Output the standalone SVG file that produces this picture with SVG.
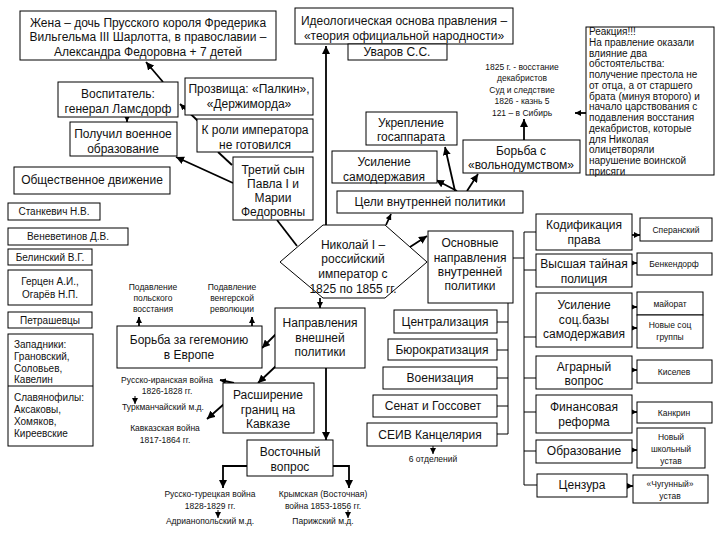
<svg xmlns="http://www.w3.org/2000/svg" width="720" height="540" viewBox="0 0 720 540">
<style>
.b{fill:#fff;stroke:#000;stroke-width:1}
.t{font-family:"Liberation Sans",Arial,sans-serif;font-size:12px;fill:#111;text-anchor:middle}
.m{font-family:"Liberation Sans",Arial,sans-serif;font-size:10px;fill:#111;text-anchor:middle}
.s{font-family:"Liberation Sans",Arial,sans-serif;font-size:8.5px;fill:#111;text-anchor:middle}
.l{text-anchor:start}
.c{fill:none;stroke:#000;stroke-width:1.8}
.c1{fill:none;stroke:#000;stroke-width:1}
</style>
<defs>
<marker id="a" markerUnits="userSpaceOnUse" markerWidth="9" markerHeight="8" refX="8" refY="4" orient="auto"><path d="M0,0 L8,4 L0,8 z" fill="#000"/></marker>
<marker id="as" markerUnits="userSpaceOnUse" markerWidth="7" markerHeight="6" refX="6" refY="3" orient="auto"><path d="M0,0 L6,3 L0,6 z" fill="#000"/></marker>
</defs>
<rect width="720" height="540" fill="#fff"/>

<g id="connectors">
<path class="c" d="M326,225 L326,46" marker-end="url(#a)"/>
<path class="c" d="M163,82 L146,62" marker-end="url(#a)"/>
<path class="c" d="M127,117 L127,122" marker-end="url(#as)"/>
<path class="c" d="M198,121 L180,104" marker-end="url(#as)"/>
<path class="c" d="M218,152 L232,165"/>
<path class="c" d="M233,183 L176,157" marker-end="url(#a)"/>
<path class="c" d="M277,220 L297,246"/>
<path class="c" d="M386,225 L391,214" marker-end="url(#as)"/>
<path class="c" d="M457,191 L436,180" marker-end="url(#a)"/>
<path class="c" d="M455,191 L445,147" marker-end="url(#a)"/>
<path class="c" d="M467,191 L478,174" marker-end="url(#a)"/>
<path class="c" d="M524,140 L524,119" marker-end="url(#a)"/>
<path class="c" d="M586,113 L575,113" marker-end="url(#as)"/>
<path class="c" d="M410,247 L427,236" marker-end="url(#a)"/>
<path class="c" d="M320,298 L320,308" marker-end="url(#as)"/>
<path class="c1" d="M508,303 L508,434 M497,322 L508,322 M497,350 L508,350 M497,378 L508,378 M497,406 L508,406 M497,434 L508,434"/>
<path class="c1" d="M513,258 L524,258 M524,232 L524,485 M524,232 L536,232 M524,270 L536,270 M524,337 L536,337 M524,378 L536,378 M524,412 L536,412 M524,451 L536,451 M524,485 L537,485"/>
<path class="c1" d="M487,400 L487,413" marker-end="url(#as)"/>
<path class="c1" d="M488,442 L488,427" marker-end="url(#as)"/>
<path class="c1" d="M433,446 L433,454" marker-end="url(#as)"/>
<path class="c" d="M632,235 L640,235" marker-end="url(#as)"/>
<path class="c" d="M632,263 L637,263" marker-end="url(#as)"/>
<path class="c" d="M632,307 L637,307" marker-end="url(#as)"/>
<path class="c" d="M632,328 L637,328" marker-end="url(#as)"/>
<path class="c" d="M632,370 L637,370" marker-end="url(#as)"/>
<path class="c" d="M632,412 L637,412" marker-end="url(#as)"/>
<path class="c" d="M632,450 L637,450" marker-end="url(#as)"/>
<path class="c" d="M627,486 L633,486" marker-end="url(#as)"/>
<path class="c" d="M139,326 L139,317" marker-end="url(#as)"/>
<path class="c" d="M252,326 L252,317" marker-end="url(#as)"/>
<path class="c" d="M277,333 L262,348" marker-end="url(#a)"/>
<path class="c" d="M276,366 L258,383" marker-end="url(#a)"/>
<path class="c" d="M234,383 L220,380" marker-end="url(#as)"/>
<path class="c1" d="M135,396 L135,404" marker-end="url(#as)"/>
<path class="c" d="M224,404 L207,419" marker-end="url(#a)"/>
<path class="c" d="M326,368 L326,440" marker-end="url(#a)"/>
<path class="c" d="M247,466 L223,466 L223,488" marker-end="url(#a)"/>
<path class="c" d="M333,466 L349,466 L349,488" marker-end="url(#a)"/>
<path class="c1" d="M218,510 L218,518" marker-end="url(#as)"/>
<path class="c1" d="M348,510 L348,518" marker-end="url(#as)"/>
</g>

<g id="zhena"><rect class="b" x="20" y="11" width="256" height="49"/>
<text class="t" x="148" y="27">Жена – дочь Прусского короля Фредерика</text>
<text class="t" x="148" y="41">Вильгельма III Шарлотта, в православии –</text>
<text class="t" x="148" y="56">Александра Федоровна + 7 детей</text></g>

<g id="ideo"><rect class="b" x="295" y="8" width="218" height="36"/>
<text class="t" x="404" y="25">Идеологическая основа правления –</text>
<text class="t" x="404" y="40">«теория официальной народности»</text></g>
<g id="uvarov"><rect class="b" x="348" y="44" width="99" height="16"/>
<text class="t" x="397" y="56">Уваров С.С.</text></g>

<g id="dekabr">
<text class="s" x="522" y="70">1825 г. - восстание</text>
<text class="s" x="522" y="81">декабристов</text>
<text class="s" x="522" y="93">Суд и следствие</text>
<text class="s" x="522" y="104">1826 - казнь 5</text>
<text class="s" x="522" y="116">121 – в Сибирь</text></g>

<g id="reakciya"><rect class="b" x="586" y="27" width="128" height="148"/>
<g class="m l">
<text x="589" y="35">Реакция!!!</text>
<text x="589" y="46">На правление оказали</text>
<text x="589" y="57">влияние два</text>
<text x="589" y="67">обстоятельства:</text>
<text x="589" y="78">получение престола не</text>
<text x="589" y="89">от отца, а от старшего</text>
<text x="589" y="100">брата (минуя второго) и</text>
<text x="589" y="110">начало царствования с</text>
<text x="589" y="121">подавления восстания</text>
<text x="589" y="132">декабристов, которые</text>
<text x="589" y="143">для Николая</text>
<text x="589" y="153">олицетворяли</text>
<text x="589" y="164">нарушение воинской</text>
<text x="589" y="175">присяги</text></g></g>

<g id="vospitatel"><rect class="b" x="58" y="82" width="120" height="35"/>
<text class="t" x="118" y="98">Воспитатель:</text>
<text class="t" x="118" y="113">генерал  Ламсдорф</text></g>
<g id="prozvisha"><rect class="b" x="185" y="78" width="128" height="37"/>
<text class="t" x="249" y="93">Прозвища: «Палкин»,</text>
<text class="t" x="249" y="108">«Держиморда»</text></g>
<g id="kroli"><rect class="b" x="197" y="119" width="116" height="33"/>
<text class="t" x="255" y="134">К роли императора</text>
<text class="t" x="255" y="149">не готовился</text></g>
<g id="poluchil"><rect class="b" x="70" y="122" width="107" height="34"/>
<text class="t" x="123" y="138">Получил военное</text>
<text class="t" x="123" y="153">образование</text></g>
<g id="tretiy"><rect class="b" x="233" y="157" width="80" height="63"/>
<text class="t" x="273" y="174">Третий сын</text>
<text class="t" x="273" y="188">Павла I и</text>
<text class="t" x="273" y="202">Марии</text>
<text class="t" x="273" y="216">Федоровны</text></g>

<g id="obsh"><rect class="b" x="14" y="167" width="156" height="27"/>
<text class="t" x="92" y="184">Общественное движение</text></g>
<g id="stankevich"><rect class="b" x="8" y="203" width="92" height="17"/>
<text class="m" x="54" y="215">Станкевич Н.В.</text></g>
<g id="venevetinov"><rect class="b" x="8" y="228" width="120" height="17"/>
<text class="m" x="68" y="240">Веневетинов Д.В.</text></g>
<g id="belinsky"><rect class="b" x="8" y="249" width="84" height="16"/>
<text class="m" x="50" y="261">Белинский В.Г.</text></g>
<g id="gercen"><rect class="b" x="8" y="270" width="84" height="35"/>
<text class="m" x="50" y="285">Герцен А.И.,</text>
<text class="m" x="50" y="298">Огарёв Н.П.</text></g>
<g id="petrashevcy"><rect class="b" x="8" y="312" width="84" height="16"/>
<text class="m" x="50" y="324">Петрашевцы</text></g>
<g id="zapadniki"><rect class="b" x="8" y="334" width="85" height="112"/>
<line class="c1" x1="8" y1="386" x2="93" y2="386"/>
<g class="m l">
<text x="14" y="348">Западники:</text>
<text x="14" y="360">Грановский,</text>
<text x="14" y="372">Соловьев,</text>
<text x="14" y="383">Кавелин</text>
<text x="14" y="401">Славянофилы:</text>
<text x="14" y="413">Аксаковы,</text>
<text x="14" y="425">Хомяков,</text>
<text x="14" y="437">Киреевские</text></g></g>

<g id="ukreplenie"><rect class="b" x="366" y="112" width="91" height="33"/>
<text class="t" x="411" y="127">Укрепление</text>
<text class="t" x="411" y="141">госаппарата</text></g>
<g id="usilenie"><rect class="b" x="332" y="151" width="105" height="32"/>
<text class="t" x="384" y="166">Усиление</text>
<text class="t" x="384" y="181">самодержавия</text></g>
<g id="borba"><rect class="b" x="463" y="140" width="117" height="33"/>
<text class="t" x="521" y="155">Борьба с</text>
<text class="t" x="521" y="169">«вольнодумством»</text></g>
<g id="celi"><rect class="b" x="337" y="191" width="186" height="22"/>
<text class="t" x="430" y="206">Цели внутренней политики</text></g>

<g id="nikolay"><polygon class="b" points="280,262 323,225 385,225 427,262 385,298 323,298"/>
<text class="t" x="353" y="249">Николай I –</text>
<text class="t" x="353" y="263">российский</text>
<text class="t" x="353" y="278">император с</text>
<text class="t" x="353" y="293">1825 по 1855 гг.</text></g>

<g id="osnovnye"><rect class="b" x="428" y="231" width="85" height="72"/>
<text class="t" x="470" y="247">Основные</text>
<text class="t" x="470" y="262">направления</text>
<text class="t" x="470" y="276">внутренней</text>
<text class="t" x="470" y="290">политики</text></g>
<g id="napr"><rect class="b" x="275" y="308" width="90" height="60"/>
<text class="t" x="320" y="327">Направления</text>
<text class="t" x="320" y="342">внешней</text>
<text class="t" x="320" y="356">политики</text></g>

<g id="central"><rect class="b" x="394" y="310" width="103" height="23"/>
<text class="t" x="445" y="326">Централизация</text></g>
<g id="burokr"><rect class="b" x="388" y="339" width="109" height="21"/>
<text class="t" x="442" y="354">Бюрократизация</text></g>
<g id="voeniz"><rect class="b" x="383" y="367" width="114" height="22"/>
<text class="t" x="440" y="382">Военизация</text></g>
<g id="senat"><rect class="b" x="373" y="395" width="124" height="22"/>
<text class="t" x="433" y="410">Сенат и Госсовет</text></g>
<g id="seiv"><rect class="b" x="367" y="423" width="130" height="23"/>
<text class="t" x="430" y="439">СЕИВ Канцелярия</text></g>
<g id="otdel"><text class="s" x="433" y="462">6 отделений</text></g>

<g id="kodif"><rect class="b" x="536" y="214" width="96" height="36"/>
<text class="t" x="584" y="229">Кодификация</text>
<text class="t" x="584" y="244">права</text></g>
<g id="policiya"><rect class="b" x="536" y="254" width="96" height="33"/>
<text class="t" x="584" y="268">Высшая тайная</text>
<text class="t" x="584" y="283">полиция</text></g>
<g id="socbaza"><rect class="b" x="536" y="293" width="96" height="54"/>
<text class="t" x="584" y="309">Усиление</text>
<text class="t" x="584" y="324">соц.базы</text>
<text class="t" x="584" y="338">самодержавия</text></g>
<g id="agrar"><rect class="b" x="536" y="356" width="96" height="33"/>
<text class="t" x="584" y="371">Аграрный</text>
<text class="t" x="584" y="385">вопрос</text></g>
<g id="finans"><rect class="b" x="536" y="395" width="96" height="38"/>
<text class="t" x="584" y="411">Финансовая</text>
<text class="t" x="584" y="426">реформа</text></g>
<g id="obraz"><rect class="b" x="536" y="440" width="96" height="23"/>
<text class="t" x="584" y="455">Образование</text></g>
<g id="cenzura"><rect class="b" x="537" y="474" width="90" height="23"/>
<text class="t" x="582" y="489">Цензура</text></g>

<g id="speransky"><rect class="b" x="640" y="218" width="72" height="23"/>
<text class="s" x="676" y="233">Сперанский</text></g>
<g id="benkendorf"><rect class="b" x="637" y="253" width="75" height="22"/>
<text class="s" x="674" y="267">Бенкендорф</text></g>
<g id="mayorat"><rect class="b" x="637" y="292" width="66" height="23"/>
<text class="s" x="670" y="307">майорат</text></g>
<g id="novye"><rect class="b" x="637" y="315" width="66" height="33"/>
<text class="s" x="670" y="328">Новые соц</text>
<text class="s" x="670" y="340">группы</text></g>
<g id="kiselev"><rect class="b" x="637" y="360" width="75" height="23"/>
<text class="s" x="674" y="375">Киселев</text></g>
<g id="kankrin"><rect class="b" x="637" y="402" width="75" height="21"/>
<text class="s" x="674" y="416">Канкрин</text></g>
<g id="ustav"><rect class="b" x="637" y="428" width="68" height="40"/>
<text class="s" x="671" y="440">Новый</text>
<text class="s" x="671" y="452">школьный</text>
<text class="s" x="671" y="464">устав</text></g>
<g id="chugun"><rect class="b" x="633" y="475" width="75" height="28"/>
<text class="s" x="670" y="487">«Чугунный»</text>
<text class="s" x="670" y="499">устав</text></g>

<g id="gegemoniya"><rect class="b" x="117" y="326" width="145" height="42"/>
<text class="t" x="189" y="344">Борьба за гегемонию</text>
<text class="t" x="189" y="359">в Европе</text></g>
<g id="podavl1">
<text class="s" x="153" y="290">Подавление</text>
<text class="s" x="153" y="301">польского</text>
<text class="s" x="153" y="312">восстания</text></g>
<g id="podavl2">
<text class="s" x="232" y="290">Подавление</text>
<text class="s" x="232" y="301">венгерской</text>
<text class="s" x="232" y="312">революции</text></g>
<g id="kavkaz"><rect class="b" x="223" y="383" width="91" height="50"/>
<text class="t" x="268" y="399">Расширение</text>
<text class="t" x="268" y="414">границ на</text>
<text class="t" x="268" y="428">Кавказе</text></g>
<g id="iran">
<text class="s" x="167" y="383">Русско-иранская война</text>
<text class="s" x="167" y="394">1826-1828 гг.</text>
<text class="s" x="163" y="410">Туркманчайский м.д.</text></g>
<g id="kavvoyna">
<text class="s" x="165" y="431">Кавказская война</text>
<text class="s" x="165" y="443">1817-1864 гг.</text></g>
<g id="vostok"><rect class="b" x="247" y="440" width="86" height="36"/>
<text class="t" x="290" y="456">Восточный</text>
<text class="t" x="290" y="471">вопрос</text></g>
<g id="turk">
<text class="s" x="210" y="497">Русско-турецкая война</text>
<text class="s" x="210" y="509">1828-1829 гг.</text>
<text class="s" x="210" y="524">Адрианопольский м.д.</text></g>
<g id="krym">
<text class="s" x="323" y="497">Крымская (Восточная)</text>
<text class="s" x="323" y="509">война 1853-1856 гг.</text>
<text class="s" x="323" y="524">Парижский м.д.</text></g>
</svg>
